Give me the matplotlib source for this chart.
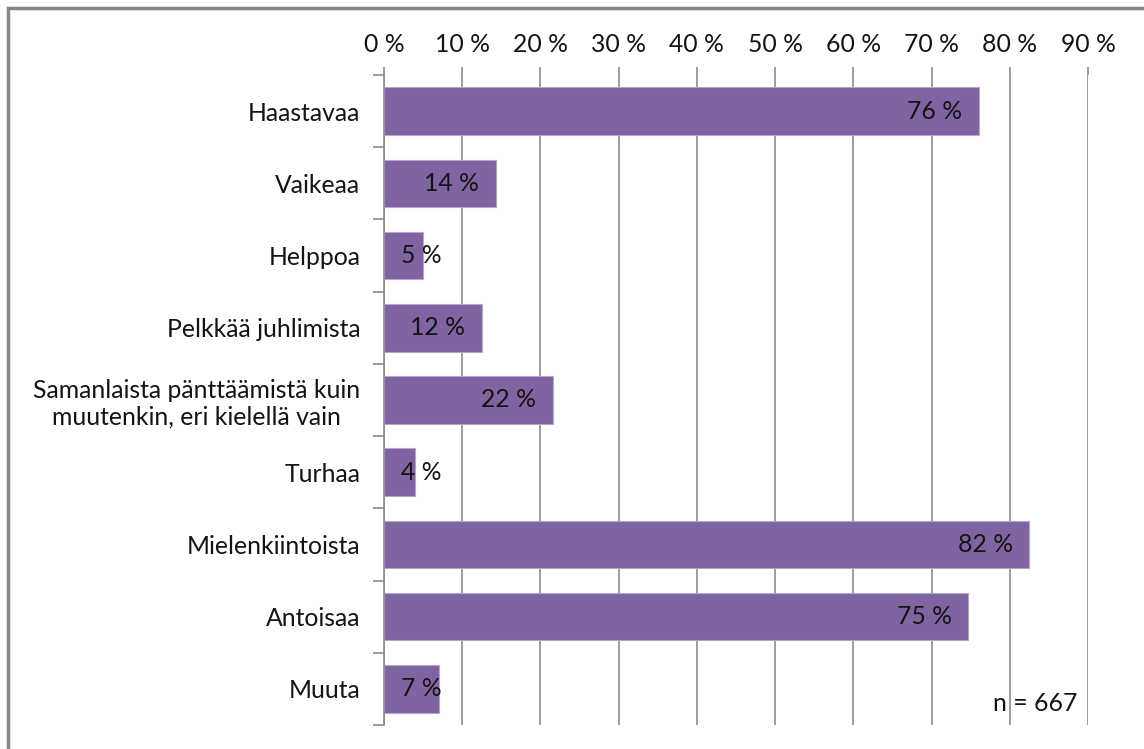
import matplotlib.pyplot as plt
from matplotlib.patches import Rectangle
from matplotlib.ticker import MultipleLocator, FixedLocator

categories = ['Haastavaa', 'Vaikeaa', 'Helppoa', 'Pelkkää juhlimista',
              'Samanlaista pänttäämistä kuin\nmuutenkin, eri kielellä vain',
              'Turhaa', 'Mielenkiintoista', 'Antoisaa', 'Muuta']
values = [76.1, 14.3, 5.0, 12.5, 21.6, 4.0, 82.5, 74.7, 7.0]
xticks = [0, 10, 20, 30, 40, 50, 60, 70, 80, 90]
n_text = 'n = 667'

plt.rcParams['font.family'] = ['Lato', 'DejaVu Sans']
fs = 17.8
barColor = '#8064A2'
gridColor = '#8C8C8C'
txtColor = '#141414'

fig = plt.figure(figsize=(11.44, 7.49), dpi=100)
ax = fig.add_axes([384/1144, 1-725/749, (1088-384)/1144, (725-75)/749])

pos = list(range(len(categories)))
ax.barh(pos, values, height=0.66, color=barColor, edgecolor='#B4A7CC', linewidth=0.8, zorder=3)

# value labels, inside end; small bars get the label from the base instead
for i, v in enumerate(values):
    lab = '%d %%' % round(v)
    if v > 9:
        ax.annotate(lab, (v, i), xytext=(-12, 0), textcoords='offset points',
                    ha='right', va='center', fontsize=fs, color=txtColor, zorder=4)
    else:
        ax.annotate(lab, (0, i), xytext=(12, 0), textcoords='offset points',
                    ha='left', va='center', fontsize=fs, color=txtColor, zorder=4)

ax.set_xlim(0, 90)
ax.set_ylim(len(categories) - 0.5, -0.5)
ax.xaxis.set_major_locator(FixedLocator(xticks))
ax.set_xticklabels(['%d %%' % t for t in xticks], fontsize=fs, color=txtColor)
ax.xaxis.tick_top()
ax.tick_params(axis='x', length=6, width=1.2, color=gridColor, pad=8)
ax.grid(axis='x', color=gridColor, linewidth=1.2, zorder=0)

ax.set_yticks(pos)
ax.set_yticklabels(categories, fontsize=fs, ha='right', multialignment='center', color=txtColor)
ax.tick_params(axis='y', which='major', length=0, pad=17)
ax.yaxis.set_minor_locator(MultipleLocator(1, offset=0.5))
ax.tick_params(axis='y', which='minor', length=8, width=1.2, color=gridColor)

for s in ['top', 'right', 'bottom']:
    ax.spines[s].set_visible(False)
ax.spines['left'].set_color(gridColor)
ax.spines['left'].set_linewidth(1.2)
ax.spines['left'].set_zorder(5)

ax.text(0.985, 0.015, n_text, transform=ax.transAxes, ha='right', va='bottom', fontsize=fs, color=txtColor)

# chart area border, runs off the right and bottom edge
fig.patches.append(Rectangle((8/1144, -0.1), 1.2, 1 - 8/749 + 0.1, transform=fig.transFigure,
                             fill=False, edgecolor='#878787', linewidth=2.5))

plt.savefig('out.png', dpi=100)
